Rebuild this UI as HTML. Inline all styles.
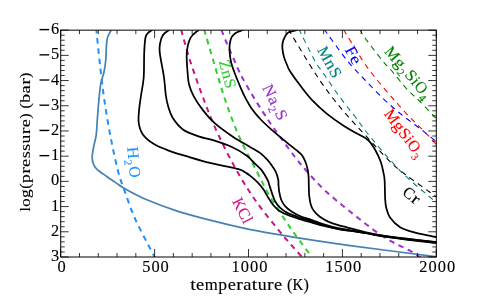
<!DOCTYPE html>
<html><head><meta charset="utf-8"><title>condensation curves</title>
<style>
html,body{margin:0;padding:0;background:#fff;}
body{width:485px;height:303px;overflow:hidden;font-family:"Liberation Serif",serif;}
svg{display:block;will-change:transform;font-family:"Liberation Serif",serif;}
</style></head><body>
<svg width="485" height="303" viewBox="0 0 485 303">
<rect width="485" height="303" fill="#fff"/>
<defs><clipPath id="ax"><rect x="60.70" y="30.15" width="375.60" height="226.85"/></clipPath></defs>

<g clip-path="url(#ax)" fill="none" stroke-linejoin="round">
<path d="M112.50,28.00 C111.83,29.17 109.42,33.00 108.50,35.00 C107.58,37.00 107.38,37.50 107.00,40.00 C106.62,42.50 106.40,46.67 106.20,50.00 C106.00,53.33 106.17,56.33 105.80,60.00 C105.43,63.67 104.83,68.05 104.00,72.00 C103.17,75.95 101.65,79.03 100.80,83.70 C99.95,88.37 99.48,93.98 98.90,100.00 C98.32,106.02 97.75,113.97 97.30,119.80 C96.85,125.63 96.80,130.53 96.20,135.00 C95.60,139.47 94.37,143.02 93.70,146.60 C93.03,150.18 92.28,153.68 92.20,156.50 C92.12,159.32 92.48,161.45 93.20,163.50 C93.92,165.55 94.30,166.67 96.50,168.80 C98.70,170.93 102.82,173.73 106.40,176.30 C109.98,178.87 114.95,182.15 118.00,184.20 C121.05,186.25 119.88,186.00 124.70,188.60 C129.52,191.20 138.25,196.08 146.90,199.80 C155.55,203.52 166.08,207.50 176.60,210.90 C187.12,214.30 197.88,217.12 210.00,220.20 C222.12,223.28 235.13,226.55 249.30,229.40 C263.47,232.25 277.88,234.57 295.00,237.30 C312.12,240.03 328.33,242.55 352.00,245.80 C375.67,249.05 422.83,254.97 437.00,256.80" stroke="#4682b4" stroke-width="1.75"/>
<path d="M96.20,28.00 C96.83,34.17 98.62,52.83 100.00,65.00 C101.38,77.17 102.73,89.00 104.50,101.00 C106.27,113.00 108.35,125.33 110.60,137.00 C112.85,148.67 115.73,162.20 118.00,171.00 C120.27,179.80 121.48,182.13 124.20,189.80 C126.92,197.47 130.35,207.92 134.30,217.00 C138.25,226.08 144.37,237.38 147.90,244.30 C151.43,251.22 154.23,256.13 155.50,258.50" stroke="#1e90ff" stroke-width="2.0" stroke-dasharray="5.5 4.7" stroke-dashoffset="10.1"/>
<path d="M180.70,28.00 C182.23,33.37 185.93,47.95 189.90,60.20 C193.87,72.45 199.77,89.08 204.50,101.50 C209.23,113.92 212.80,122.95 218.30,134.70 C223.80,146.45 231.10,160.75 237.50,172.00 C243.90,183.25 249.78,192.43 256.70,202.20 C263.62,211.97 273.23,223.47 279.00,230.60 C284.77,237.73 287.30,240.43 291.30,245.00 C295.30,249.57 301.05,255.83 303.00,258.00" stroke="#c71585" stroke-width="2.0" stroke-dasharray="5.45 4.7" stroke-dashoffset="8.15"/>
<path d="M203.70,28.00 C205.52,34.18 210.93,52.85 214.60,65.10 C218.27,77.35 221.57,89.50 225.70,101.50 C229.83,113.50 234.13,125.27 239.40,137.10 C244.67,148.93 252.15,162.48 257.30,172.50 C262.45,182.52 265.45,188.95 270.30,197.20 C275.15,205.45 282.28,215.80 286.40,222.00 C290.52,228.20 290.65,228.40 295.00,234.40 C299.35,240.40 309.58,254.07 312.50,258.00" stroke="#32cd32" stroke-width="2.0" stroke-dasharray="5.45 4.7" stroke-dashoffset="8.7"/>
<path d="M220.70,28.00 C221.68,30.48 224.65,38.23 226.60,42.90 C228.55,47.57 230.47,51.60 232.40,56.00 C234.33,60.40 236.52,65.63 238.20,69.30 C239.88,72.97 240.20,73.78 242.50,78.00 C244.80,82.22 248.50,88.78 252.00,94.60 C255.50,100.42 259.83,107.25 263.50,112.90 C267.17,118.55 268.75,121.15 274.00,128.50 C279.25,135.85 289.45,149.78 295.00,157.00 C300.55,164.22 302.38,166.30 307.30,171.80 C312.22,177.30 317.38,183.38 324.50,190.00 C331.62,196.62 340.25,203.75 350.00,211.50 C359.75,219.25 372.73,229.82 383.00,236.50 C393.27,243.18 405.27,248.02 411.60,251.60 C417.93,255.18 419.43,256.93 421.00,258.00" stroke="#9932cc" stroke-width="2.0" stroke-dasharray="5.45 4.7" stroke-dashoffset="8.15"/>
<path d="M155.00,28.00 C154.50,28.33 153.25,29.08 152.00,30.00 C150.75,30.92 148.60,32.17 147.50,33.50 C146.40,34.83 145.95,34.78 145.40,38.00 C144.85,41.22 144.48,46.22 144.20,52.80 C143.92,59.38 144.22,70.47 143.70,77.50 C143.18,84.53 141.85,89.77 141.10,95.00 C140.35,100.23 139.60,104.28 139.20,108.90 C138.80,113.52 138.12,118.47 138.70,122.70 C139.28,126.93 140.30,130.82 142.70,134.30 C145.10,137.78 148.67,140.83 153.10,143.60 C157.53,146.37 163.13,148.62 169.30,150.90 C175.47,153.18 183.32,155.30 190.10,157.30 C196.88,159.30 204.02,161.40 210.00,162.90 C215.98,164.40 221.00,165.18 226.00,166.30 C231.00,167.42 236.75,168.55 240.00,169.60 C243.25,170.65 243.83,171.60 245.50,172.60 C247.17,173.60 247.93,173.93 250.00,175.60 C252.07,177.27 255.65,180.28 257.90,182.60 C260.15,184.92 261.78,187.02 263.50,189.50 C265.22,191.98 266.58,194.92 268.20,197.50 C269.82,200.08 271.37,202.80 273.20,205.00 C275.03,207.20 276.67,208.98 279.20,210.70 C281.73,212.42 284.67,213.82 288.40,215.30 C292.13,216.78 297.67,218.38 301.60,219.60 C305.53,220.82 308.28,221.53 312.00,222.60 C315.72,223.67 319.52,224.90 323.90,226.00 C328.28,227.10 333.50,228.33 338.30,229.20 C343.10,230.07 348.25,230.57 352.70,231.20 C357.15,231.83 359.97,232.12 365.00,233.00 C370.03,233.88 376.33,235.43 382.90,236.50 C389.47,237.57 395.38,238.30 404.40,239.40 C413.42,240.50 431.57,242.48 437.00,243.10" stroke="#000" stroke-width="1.75"/>
<path d="M172.00,28.00 C171.50,28.33 170.50,28.83 169.00,30.00 C167.50,31.17 164.47,32.85 163.00,35.00 C161.53,37.15 160.73,39.93 160.20,42.90 C159.67,45.87 159.17,47.03 159.80,52.80 C160.43,58.57 163.00,70.47 164.00,77.50 C165.00,84.53 165.10,90.15 165.80,95.00 C166.50,99.85 167.03,102.75 168.20,106.60 C169.37,110.45 170.30,114.25 172.80,118.10 C175.30,121.95 178.77,126.62 183.20,129.70 C187.63,132.78 194.58,134.90 199.40,136.60 C204.22,138.30 206.68,138.17 212.10,139.90 C217.52,141.63 226.12,144.37 231.90,147.00 C237.68,149.63 243.08,153.03 246.80,155.70 C250.52,158.37 251.77,160.63 254.20,163.00 C256.63,165.37 259.17,167.07 261.40,169.90 C263.63,172.73 266.28,177.48 267.60,180.00 C268.92,182.52 268.58,182.85 269.30,185.00 C270.02,187.15 270.92,190.15 271.90,192.90 C272.88,195.65 273.77,198.97 275.20,201.50 C276.63,204.03 278.30,206.12 280.50,208.10 C282.70,210.08 284.88,211.72 288.40,213.40 C291.92,215.08 297.67,216.88 301.60,218.20 C305.53,219.52 308.28,220.12 312.00,221.30 C315.72,222.48 319.52,224.05 323.90,225.30 C328.28,226.55 333.50,227.85 338.30,228.80 C343.10,229.75 348.25,230.32 352.70,231.00 C357.15,231.68 359.97,232.04 365.00,232.90 C370.03,233.76 376.33,235.14 382.90,236.17 C389.47,237.20 395.38,237.97 404.40,239.07 C413.42,240.17 431.57,242.15 437.00,242.77" stroke="#000" stroke-width="1.75"/>
<path d="M201.00,28.00 C200.58,28.33 200.25,28.35 198.50,30.00 C196.75,31.65 192.45,34.10 190.50,37.90 C188.55,41.70 187.28,47.02 186.80,52.80 C186.32,58.58 187.20,67.23 187.60,72.60 C188.00,77.97 188.15,81.00 189.20,85.00 C190.25,89.00 191.58,92.37 193.90,96.60 C196.22,100.83 199.63,105.97 203.10,110.40 C206.57,114.83 209.68,118.77 214.70,123.20 C219.72,127.63 227.32,133.05 233.20,137.00 C239.08,140.95 245.55,144.25 250.00,146.90 C254.45,149.55 257.35,151.10 259.90,152.90 C262.45,154.70 263.65,156.05 265.30,157.70 C266.95,159.35 268.07,160.47 269.80,162.80 C271.53,165.13 274.30,168.92 275.70,171.70 C277.10,174.48 277.73,177.28 278.20,179.50 C278.67,181.72 278.33,182.98 278.50,185.00 C278.67,187.02 278.77,189.18 279.20,191.60 C279.63,194.02 280.12,197.08 281.10,199.50 C282.08,201.92 283.23,204.02 285.10,206.10 C286.97,208.18 289.55,210.23 292.30,212.00 C295.05,213.77 298.32,215.37 301.60,216.70 C304.88,218.03 308.28,218.73 312.00,220.00 C315.72,221.27 319.52,222.93 323.90,224.30 C328.28,225.67 333.50,227.13 338.30,228.20 C343.10,229.27 348.25,229.93 352.70,230.70 C357.15,231.47 359.97,231.94 365.00,232.80 C370.03,233.66 376.33,234.84 382.90,235.83 C389.47,236.82 395.38,237.63 404.40,238.73 C413.42,239.83 431.57,241.81 437.00,242.43" stroke="#000" stroke-width="1.75"/>
<path d="M245.00,28.00 C244.42,28.42 243.05,29.67 241.50,30.50 C239.95,31.33 237.35,31.90 235.70,33.00 C234.05,34.10 232.60,35.18 231.60,37.10 C230.60,39.02 230.02,41.88 229.70,44.50 C229.38,47.12 229.45,49.77 229.70,52.80 C229.95,55.83 230.45,59.55 231.20,62.70 C231.95,65.85 232.82,67.98 234.20,71.70 C235.58,75.42 237.72,80.80 239.50,85.00 C241.28,89.20 242.85,92.93 244.90,96.90 C246.95,100.87 249.17,105.03 251.80,108.80 C254.43,112.57 257.23,115.87 260.70,119.50 C264.17,123.13 267.65,126.28 272.60,130.60 C277.55,134.92 286.33,142.05 290.40,145.40 C294.47,148.75 295.10,149.10 297.00,150.70 C298.90,152.30 300.38,153.12 301.80,155.00 C303.22,156.88 304.52,159.53 305.50,162.00 C306.48,164.47 307.18,167.30 307.70,169.80 C308.22,172.30 308.42,174.47 308.60,177.00 C308.78,179.53 308.70,181.90 308.80,185.00 C308.90,188.10 308.85,192.27 309.20,195.60 C309.55,198.93 310.13,202.47 310.90,205.00 C311.67,207.53 312.37,208.88 313.80,210.80 C315.23,212.72 317.10,214.70 319.50,216.50 C321.90,218.30 325.07,220.15 328.20,221.60 C331.33,223.05 334.22,224.00 338.30,225.20 C342.38,226.40 348.25,227.67 352.70,228.80 C357.15,229.93 359.97,230.88 365.00,232.00 C370.03,233.12 376.33,234.43 382.90,235.50 C389.47,236.57 395.38,237.30 404.40,238.40 C413.42,239.50 431.57,241.48 437.00,242.10" stroke="#000" stroke-width="1.75"/>
<path d="M300.00,28.00 C299.28,28.42 297.73,29.68 295.70,30.50 C293.67,31.32 289.83,31.33 287.80,32.90 C285.77,34.47 284.42,37.58 283.50,39.90 C282.58,42.22 282.23,44.00 282.30,46.80 C282.37,49.60 283.03,53.50 283.90,56.70 C284.77,59.90 286.48,63.58 287.50,66.00 C288.52,68.42 287.65,67.65 290.00,71.20 C292.35,74.75 297.75,82.30 301.60,87.30 C305.45,92.30 308.87,96.77 313.10,101.20 C317.33,105.63 321.98,109.85 327.00,113.90 C332.02,117.95 338.18,122.22 343.20,125.50 C348.22,128.78 352.97,131.18 357.10,133.60 C361.23,136.02 365.02,137.35 368.00,140.00 C370.98,142.65 372.87,145.83 375.00,149.50 C377.13,153.17 379.42,158.25 380.80,162.00 C382.18,165.75 382.67,169.00 383.30,172.00 C383.93,175.00 384.28,175.38 384.60,180.00 C384.92,184.62 384.92,195.05 385.20,199.70 C385.48,204.35 385.50,204.93 386.30,207.90 C387.10,210.87 387.70,214.28 390.00,217.50 C392.30,220.72 395.92,224.68 400.10,227.20 C404.28,229.72 408.95,230.93 415.10,232.60 C421.25,234.27 433.35,236.43 437.00,237.20" stroke="#000" stroke-width="1.75"/>
<path d="M288.00,28.00 C289.17,30.07 290.45,32.82 295.00,40.40 C299.55,47.98 309.20,64.13 315.30,73.50 C321.40,82.87 326.18,89.48 331.60,96.60 C337.02,103.72 342.07,109.65 347.80,116.20 C353.53,122.75 359.13,128.50 366.00,135.90 C372.87,143.30 382.48,154.20 389.00,160.60 C395.52,167.00 397.55,168.52 405.10,174.30 C412.65,180.08 428.98,191.48 434.30,195.30 C439.62,199.12 436.55,196.88 437.00,197.20" stroke="#000" stroke-width="1.1" stroke-dasharray="5.5 4.65" stroke-dashoffset="8.9"/>
<path d="M298.40,28.00 C301.08,33.37 310.32,52.62 314.50,60.20 C318.68,67.78 319.48,67.63 323.50,73.50 C327.52,79.37 333.40,88.28 338.60,95.40 C343.80,102.52 349.38,109.25 354.70,116.20 C360.02,123.15 362.72,127.80 370.50,137.10 C378.28,146.40 390.77,161.38 401.40,172.00 C412.03,182.62 428.37,195.60 434.30,200.80 C440.23,206.00 436.55,202.80 437.00,203.20" stroke="#008080" stroke-width="1.1" stroke-dasharray="5.5 4.65" stroke-dashoffset="9.2"/>
<path d="M323.20,28.00 C327.15,33.37 339.93,51.53 346.90,60.20 C353.87,68.87 358.65,73.32 365.00,80.00 C371.35,86.68 378.63,94.32 385.00,100.30 C391.37,106.28 397.13,111.00 403.20,115.90 C409.27,120.80 416.10,125.60 421.40,129.70 C426.70,133.80 432.40,138.43 435.00,140.50 C437.60,142.57 436.67,141.83 437.00,142.10" stroke="#0000ff" stroke-width="1.1" stroke-dasharray="5.5 4.65" stroke-dashoffset="8.77"/>
<path d="M342.50,28.00 C346.02,33.67 357.68,53.17 363.60,62.00 C369.52,70.83 373.37,75.20 378.00,81.00 C382.63,86.80 387.97,92.80 391.40,96.80 C394.83,100.80 396.03,102.12 398.60,105.00 C401.17,107.88 404.22,111.37 406.80,114.10 C409.38,116.83 411.67,118.98 414.10,121.40 C416.53,123.82 418.98,126.18 421.40,128.60 C423.82,131.02 426.33,133.47 428.60,135.90 C430.87,138.33 433.60,141.60 435.00,143.20 C436.40,144.80 436.67,145.12 437.00,145.50" stroke="#ff0000" stroke-width="1.1" stroke-dasharray="5.5 4.65" stroke-dashoffset="8.25"/>
<path d="M359.30,28.00 C360.25,29.65 360.88,32.12 365.00,37.90 C369.12,43.68 379.87,57.58 384.00,62.70 C388.13,67.82 385.87,64.07 389.80,68.60 C393.73,73.13 402.65,84.50 407.60,89.90 C412.55,95.30 414.72,96.22 419.50,101.00 C424.28,105.78 433.38,115.55 436.30,118.60 C439.22,121.65 436.88,119.18 437.00,119.30" stroke="#008000" stroke-width="1.1" stroke-dasharray="5.5 4.65" stroke-dashoffset="8.85"/>
</g>
<g stroke="#000" stroke-width="1" fill="none">
<rect x="60.70" y="30.15" width="375.60" height="226.85"/>
<path stroke-width="0.8" d="M60.70,257.00v-8.00 M60.70,30.15v8.00 M79.48,257.00v-4.00 M79.48,30.15v4.00 M98.26,257.00v-4.00 M98.26,30.15v4.00 M117.04,257.00v-4.00 M117.04,30.15v4.00 M135.82,257.00v-4.00 M135.82,30.15v4.00 M154.60,257.00v-8.00 M154.60,30.15v8.00 M173.38,257.00v-4.00 M173.38,30.15v4.00 M192.16,257.00v-4.00 M192.16,30.15v4.00 M210.94,257.00v-4.00 M210.94,30.15v4.00 M229.72,257.00v-4.00 M229.72,30.15v4.00 M248.50,257.00v-8.00 M248.50,30.15v8.00 M267.28,257.00v-4.00 M267.28,30.15v4.00 M286.06,257.00v-4.00 M286.06,30.15v4.00 M304.84,257.00v-4.00 M304.84,30.15v4.00 M323.62,257.00v-4.00 M323.62,30.15v4.00 M342.40,257.00v-8.00 M342.40,30.15v8.00 M361.18,257.00v-4.00 M361.18,30.15v4.00 M379.96,257.00v-4.00 M379.96,30.15v4.00 M398.74,257.00v-4.00 M398.74,30.15v4.00 M417.52,257.00v-4.00 M417.52,30.15v4.00 M436.30,257.00v-8.00 M436.30,30.15v8.00 M60.70,30.15h8.00 M436.30,30.15h-8.00 M60.70,35.19h4.00 M436.30,35.19h-4.00 M60.70,40.23h4.00 M436.30,40.23h-4.00 M60.70,45.27h4.00 M436.30,45.27h-4.00 M60.70,50.31h4.00 M436.30,50.31h-4.00 M60.70,55.36h8.00 M436.30,55.36h-8.00 M60.70,60.40h4.00 M436.30,60.40h-4.00 M60.70,65.44h4.00 M436.30,65.44h-4.00 M60.70,70.48h4.00 M436.30,70.48h-4.00 M60.70,75.52h4.00 M436.30,75.52h-4.00 M60.70,80.56h8.00 M436.30,80.56h-8.00 M60.70,85.60h4.00 M436.30,85.60h-4.00 M60.70,90.64h4.00 M436.30,90.64h-4.00 M60.70,95.68h4.00 M436.30,95.68h-4.00 M60.70,100.73h4.00 M436.30,100.73h-4.00 M60.70,105.77h8.00 M436.30,105.77h-8.00 M60.70,110.81h4.00 M436.30,110.81h-4.00 M60.70,115.85h4.00 M436.30,115.85h-4.00 M60.70,120.89h4.00 M436.30,120.89h-4.00 M60.70,125.93h4.00 M436.30,125.93h-4.00 M60.70,130.97h8.00 M436.30,130.97h-8.00 M60.70,136.01h4.00 M436.30,136.01h-4.00 M60.70,141.05h4.00 M436.30,141.05h-4.00 M60.70,146.10h4.00 M436.30,146.10h-4.00 M60.70,151.14h4.00 M436.30,151.14h-4.00 M60.70,156.18h8.00 M436.30,156.18h-8.00 M60.70,161.22h4.00 M436.30,161.22h-4.00 M60.70,166.26h4.00 M436.30,166.26h-4.00 M60.70,171.30h4.00 M436.30,171.30h-4.00 M60.70,176.34h4.00 M436.30,176.34h-4.00 M60.70,181.38h8.00 M436.30,181.38h-8.00 M60.70,186.42h4.00 M436.30,186.42h-4.00 M60.70,191.47h4.00 M436.30,191.47h-4.00 M60.70,196.51h4.00 M436.30,196.51h-4.00 M60.70,201.55h4.00 M436.30,201.55h-4.00 M60.70,206.59h8.00 M436.30,206.59h-8.00 M60.70,211.63h4.00 M436.30,211.63h-4.00 M60.70,216.67h4.00 M436.30,216.67h-4.00 M60.70,221.71h4.00 M436.30,221.71h-4.00 M60.70,226.75h4.00 M436.30,226.75h-4.00 M60.70,231.79h8.00 M436.30,231.79h-8.00 M60.70,236.84h4.00 M436.30,236.84h-4.00 M60.70,241.88h4.00 M436.30,241.88h-4.00 M60.70,246.92h4.00 M436.30,246.92h-4.00 M60.70,251.96h4.00 M436.30,251.96h-4.00 M60.70,257.00h8.00 M436.30,257.00h-8.00"/>
</g>
<g fill="#000" stroke="#000" stroke-width="0.12">
<g transform="translate(61.60,271.70)"><text transform="translate(0.00,0.00) scale(1.020,1.000)" font-size="16.10" text-anchor="middle">0</text></g>
<g transform="translate(155.50,271.70)"><text transform="translate(-9.22,0.00) scale(1.020,1.000)" font-size="16.10" text-anchor="middle">5</text><text transform="translate(0.00,0.00) scale(1.020,1.000)" font-size="16.10" text-anchor="middle">0</text><text transform="translate(9.22,0.00) scale(1.020,1.000)" font-size="16.10" text-anchor="middle">0</text></g>
<g transform="translate(249.40,271.70)"><text transform="translate(-13.83,0.00) scale(1.020,1.000)" font-size="16.10" text-anchor="middle">1</text><text transform="translate(-4.61,0.00) scale(1.020,1.000)" font-size="16.10" text-anchor="middle">0</text><text transform="translate(4.61,0.00) scale(1.020,1.000)" font-size="16.10" text-anchor="middle">0</text><text transform="translate(13.83,0.00) scale(1.020,1.000)" font-size="16.10" text-anchor="middle">0</text></g>
<g transform="translate(343.30,271.70)"><text transform="translate(-13.83,0.00) scale(1.020,1.000)" font-size="16.10" text-anchor="middle">1</text><text transform="translate(-4.61,0.00) scale(1.020,1.000)" font-size="16.10" text-anchor="middle">5</text><text transform="translate(4.61,0.00) scale(1.020,1.000)" font-size="16.10" text-anchor="middle">0</text><text transform="translate(13.83,0.00) scale(1.020,1.000)" font-size="16.10" text-anchor="middle">0</text></g>
<g transform="translate(437.20,271.70)"><text transform="translate(-13.83,0.00) scale(1.020,1.000)" font-size="16.10" text-anchor="middle">2</text><text transform="translate(-4.61,0.00) scale(1.020,1.000)" font-size="16.10" text-anchor="middle">0</text><text transform="translate(4.61,0.00) scale(1.020,1.000)" font-size="16.10" text-anchor="middle">0</text><text transform="translate(13.83,0.00) scale(1.020,1.000)" font-size="16.10" text-anchor="middle">0</text></g>
<g transform="translate(59.70,34.15)"><rect x="-20.04" y="-5.17" width="9.48" height="1.25"/><text transform="translate(-4.61,0.00) scale(1.020,1.000)" font-size="16.10" text-anchor="middle">6</text></g>
<g transform="translate(59.70,59.36)"><rect x="-20.04" y="-5.17" width="9.48" height="1.25"/><text transform="translate(-4.61,0.00) scale(1.020,1.000)" font-size="16.10" text-anchor="middle">5</text></g>
<g transform="translate(59.70,84.56)"><rect x="-20.04" y="-5.17" width="9.48" height="1.25"/><text transform="translate(-4.61,0.00) scale(1.020,1.000)" font-size="16.10" text-anchor="middle">4</text></g>
<g transform="translate(59.70,109.77)"><rect x="-20.04" y="-5.17" width="9.48" height="1.25"/><text transform="translate(-4.61,0.00) scale(1.020,1.000)" font-size="16.10" text-anchor="middle">3</text></g>
<g transform="translate(59.70,134.97)"><rect x="-20.04" y="-5.17" width="9.48" height="1.25"/><text transform="translate(-4.61,0.00) scale(1.020,1.000)" font-size="16.10" text-anchor="middle">2</text></g>
<g transform="translate(59.70,160.18)"><rect x="-20.04" y="-5.17" width="9.48" height="1.25"/><text transform="translate(-4.61,0.00) scale(1.020,1.000)" font-size="16.10" text-anchor="middle">1</text></g>
<g transform="translate(59.70,185.38)"><text transform="translate(-4.61,0.00) scale(1.020,1.000)" font-size="16.10" text-anchor="middle">0</text></g>
<g transform="translate(59.70,210.59)"><text transform="translate(-4.61,0.00) scale(1.020,1.000)" font-size="16.10" text-anchor="middle">1</text></g>
<g transform="translate(59.70,235.79)"><text transform="translate(-4.61,0.00) scale(1.020,1.000)" font-size="16.10" text-anchor="middle">2</text></g>
<g transform="translate(59.70,261.00)"><text transform="translate(-4.61,0.00) scale(1.020,1.000)" font-size="16.10" text-anchor="middle">3</text></g>
<g transform="translate(249.50,289.80)"><text transform="translate(-56.60,0.00) scale(1.237,1.000)" font-size="16.10" text-anchor="middle">t</text><text transform="translate(-49.39,0.00) scale(1.141,1.000)" font-size="16.10" text-anchor="middle">e</text><text transform="translate(-38.23,0.00) scale(1.043,1.000)" font-size="16.10" text-anchor="middle">m</text><text transform="translate(-26.72,0.00) scale(1.095,1.000)" font-size="16.10" text-anchor="middle">p</text><text transform="translate(-17.78,0.00) scale(1.141,1.000)" font-size="16.10" text-anchor="middle">e</text><text transform="translate(-10.03,0.00) scale(1.228,1.000)" font-size="16.10" text-anchor="middle">r</text><text transform="translate(-2.24,0.00) scale(1.148,1.000)" font-size="16.10" text-anchor="middle">a</text><text transform="translate(5.00,0.00) scale(1.237,1.000)" font-size="16.10" text-anchor="middle">t</text><text transform="translate(12.58,0.00) scale(1.102,1.000)" font-size="16.10" text-anchor="middle">u</text><text transform="translate(20.71,0.00) scale(1.228,1.000)" font-size="16.10" text-anchor="middle">r</text><text transform="translate(28.47,0.00) scale(1.141,1.000)" font-size="16.10" text-anchor="middle">e</text><text transform="translate(40.20,0.00) scale(1.002,1.000)" font-size="16.10" text-anchor="middle">(</text><text transform="translate(48.44,0.00) scale(0.920,1.000)" font-size="16.10" text-anchor="middle">K</text><text transform="translate(56.69,0.00) scale(1.002,1.000)" font-size="16.10" text-anchor="middle">)</text></g>
<g transform="translate(30.00,142.00) rotate(-90)"><text transform="translate(-67.31,0.00) scale(0.985,0.930)" font-size="16.10" text-anchor="middle">l</text><text transform="translate(-60.62,0.00) scale(1.030,0.930)" font-size="16.10" text-anchor="middle">o</text><text transform="translate(-51.62,0.00) scale(1.095,0.930)" font-size="16.10" text-anchor="middle">g</text><text transform="translate(-44.15,0.00) scale(1.002,0.930)" font-size="16.10" text-anchor="middle">(</text><text transform="translate(-36.69,0.00) scale(1.095,0.930)" font-size="16.10" text-anchor="middle">p</text><text transform="translate(-28.58,0.00) scale(1.228,0.930)" font-size="16.10" text-anchor="middle">r</text><text transform="translate(-20.82,0.00) scale(1.141,0.930)" font-size="16.10" text-anchor="middle">e</text><text transform="translate(-12.81,0.00) scale(1.128,0.930)" font-size="16.10" text-anchor="middle">s</text><text transform="translate(-5.37,0.00) scale(1.128,0.930)" font-size="16.10" text-anchor="middle">s</text><text transform="translate(3.02,0.00) scale(1.102,0.930)" font-size="16.10" text-anchor="middle">u</text><text transform="translate(11.15,0.00) scale(1.228,0.930)" font-size="16.10" text-anchor="middle">r</text><text transform="translate(18.91,0.00) scale(1.141,0.930)" font-size="16.10" text-anchor="middle">e</text><text transform="translate(26.03,0.00) scale(1.002,0.930)" font-size="16.10" text-anchor="middle">)</text><text transform="translate(36.29,0.00) scale(1.002,0.930)" font-size="16.10" text-anchor="middle">(</text><text transform="translate(43.76,0.00) scale(1.095,0.930)" font-size="16.10" text-anchor="middle">b</text><text transform="translate(52.72,0.00) scale(1.148,0.930)" font-size="16.10" text-anchor="middle">a</text><text transform="translate(60.51,0.00) scale(1.228,0.930)" font-size="16.10" text-anchor="middle">r</text><text transform="translate(66.80,0.00) scale(1.002,0.930)" font-size="16.10" text-anchor="middle">)</text></g>
</g>
<g transform="translate(128.60,162.60) rotate(85.0)" fill="#1e90ff" stroke="#1e90ff" stroke-width="0.12"><text transform="translate(-9.48,0.00) scale(1.033,1.000)" font-size="16.10" text-anchor="middle">H</text><text transform="translate(-0.07,4.20) scale(1.020,1.000)" font-size="10.79" text-anchor="middle">2</text><text transform="translate(9.86,0.00) scale(0.972,1.000)" font-size="16.10" text-anchor="middle">O</text></g>
<g transform="translate(222.40,75.50) rotate(75.0)" fill="#32cd32" stroke="#32cd32" stroke-width="0.12"><text transform="translate(-9.64,0.00) scale(0.973,1.000)" font-size="16.10" text-anchor="middle">Z</text><text transform="translate(0.07,0.00) scale(1.102,1.000)" font-size="16.10" text-anchor="middle">n</text><text transform="translate(9.71,0.00) scale(1.054,1.000)" font-size="16.10" text-anchor="middle">S</text></g>
<g transform="translate(270.35,104.40) rotate(64.0)" fill="#9932cc" stroke="#9932cc" stroke-width="0.12"><text transform="translate(-12.83,0.00) scale(1.037,1.000)" font-size="16.10" text-anchor="middle">N</text><text transform="translate(-2.16,0.00) scale(1.148,1.000)" font-size="16.10" text-anchor="middle">a</text><text transform="translate(5.25,4.20) scale(1.020,1.000)" font-size="10.79" text-anchor="middle">2</text><text transform="translate(14.20,0.00) scale(1.054,1.000)" font-size="16.10" text-anchor="middle">S</text></g>
<g transform="translate(238.10,213.00) rotate(63.0)" fill="#c71585" stroke="#c71585" stroke-width="0.12"><text transform="translate(-7.87,0.00) scale(0.920,1.000)" font-size="16.10" text-anchor="middle">K</text><text transform="translate(3.10,0.00) scale(0.981,1.000)" font-size="16.10" text-anchor="middle">C</text><text transform="translate(10.96,0.00) scale(0.985,1.000)" font-size="16.10" text-anchor="middle">l</text></g>
<g transform="translate(325.00,64.50) rotate(61.0)" fill="#008080" stroke="#008080" stroke-width="0.12"><text transform="translate(-9.64,0.00) scale(0.986,1.000)" font-size="16.10" text-anchor="middle">M</text><text transform="translate(2.46,0.00) scale(1.102,1.000)" font-size="16.10" text-anchor="middle">n</text><text transform="translate(12.09,0.00) scale(1.054,1.000)" font-size="16.10" text-anchor="middle">S</text></g>
<g transform="translate(348.80,57.70) rotate(61.0)" fill="#0000ff" stroke="#0000ff" stroke-width="0.12"><text transform="translate(-4.29,0.00) scale(1.068,1.000)" font-size="16.10" text-anchor="middle">F</text><text transform="translate(5.03,0.00) scale(1.141,1.000)" font-size="16.10" text-anchor="middle">e</text></g>
<g transform="translate(404.60,76.00) rotate(49.5)" fill="#008000" stroke="#008000" stroke-width="0.12"><text transform="translate(-24.95,0.00) scale(0.986,1.000)" font-size="16.10" text-anchor="middle">M</text><text transform="translate(-12.89,0.00) scale(1.095,1.000)" font-size="16.10" text-anchor="middle">g</text><text transform="translate(-5.16,4.20) scale(1.020,1.000)" font-size="10.79" text-anchor="middle">2</text><text transform="translate(3.80,0.00) scale(1.054,1.000)" font-size="16.10" text-anchor="middle">S</text><text transform="translate(11.09,0.00) scale(0.985,1.000)" font-size="16.10" text-anchor="middle">i</text><text transform="translate(19.35,0.00) scale(0.972,1.000)" font-size="16.10" text-anchor="middle">O</text><text transform="translate(28.38,4.20) scale(1.020,1.000)" font-size="10.79" text-anchor="middle">4</text></g>
<g transform="translate(400.50,136.60) rotate(53.0)" fill="#ff0000" stroke="#ff0000" stroke-width="0.12"><text transform="translate(-21.41,0.00) scale(0.986,1.000)" font-size="16.10" text-anchor="middle">M</text><text transform="translate(-9.35,0.00) scale(1.095,1.000)" font-size="16.10" text-anchor="middle">g</text><text transform="translate(0.26,0.00) scale(1.054,1.000)" font-size="16.10" text-anchor="middle">S</text><text transform="translate(7.55,0.00) scale(0.985,1.000)" font-size="16.10" text-anchor="middle">i</text><text transform="translate(15.81,0.00) scale(0.972,1.000)" font-size="16.10" text-anchor="middle">O</text><text transform="translate(24.85,4.20) scale(1.020,1.000)" font-size="10.79" text-anchor="middle">3</text></g>
<g transform="translate(408.40,199.50) rotate(38.0)" fill="#000" stroke="#000" stroke-width="0.12"><text transform="translate(-3.47,0.00) scale(0.981,1.000)" font-size="16.10" text-anchor="middle">C</text><text transform="translate(5.55,0.00) scale(1.228,1.000)" font-size="16.10" text-anchor="middle">r</text></g>
</svg></body></html>
